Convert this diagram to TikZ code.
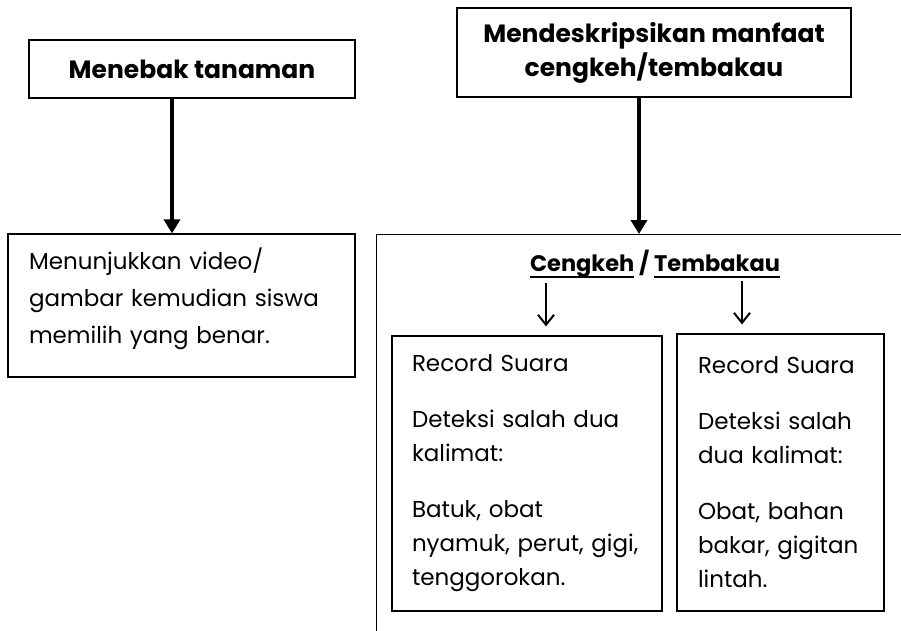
\documentclass[tikz,border=0pt]{standalone}
\usepackage{fontspec}
\setmainfont{Poppins}
\usetikzlibrary{arrows.meta}

\newcommand\uword[1]{\setbox0=\hbox{#1}\rlap{\rule[-6pt]{\wd0}{2pt}}\box0\relax}

\tikzset{
  box/.style={draw=black, line width=1.2pt, inner sep=0pt},
  heavy/.style={line width=4pt, -{Triangle[width=16pt,length=14pt]}},
  light/.style={line width=2pt, -{Straight Barb[width=16pt,length=10pt]}},
}

\begin{document}
\begin{tikzpicture}[x=1pt,y=-1pt]
    \useasboundingbox (0,0) rectangle (901,630);

    \node[box, minimum width=326pt, minimum height=58pt, font=\bfseries\fontsize{25}{28}\selectfont] (guess) at (192,69) {Menebak tanaman};
    \node[box, minimum width=394pt, minimum height=89pt, align=center, font=\bfseries\fontsize{25}{34}\selectfont] (benefit) at (654,52.5) {Mendeskripsikan manfaat\\cengkeh/tembakau};

    \node[box, text width=305pt, inner xsep=21pt, minimum height=143pt, text depth=94pt, align=left, font=\fontsize{23}{37}\selectfont] (show) at (181.5,305.5) {Menunjukkan video/\\gambar kemudian siswa\\memilih yang benar.};

    \node[box, anchor=north west, minimum width=600pt, minimum height=420pt] (panel) at (376,234) {};
    \node[font=\bfseries\fontsize{22.5}{26}\selectfont] (plants) at (655,264) {\uword{Cengkeh} / \uword{Tembakau}};

    \node[box, text width=230pt, inner xsep=20pt, minimum height=275pt, align=left, font=\fontsize{23}{34}\selectfont] (clove) at (527,473.5) {Record Suara\\[22pt]Deteksi salah dua\\kalimat:\\[22pt]Batuk, obat\\nyamuk, perut, gigi,\\tenggorokan.};
    \node[box, text width=165pt, inner xsep=21pt, minimum height=277pt, align=left, font=\fontsize{23}{34}\selectfont] (tobacco) at (780.5,472.5) {Record Suara\\[22pt]Deteksi salah\\dua kalimat:\\[22pt]Obat, bahan\\bakar, gigitan\\lintah.};

    \coordinate (cfrom) at (546,283);
    \coordinate (tfrom) at (742,281);

    \draw[heavy] ([xshift=-20pt]guess.south) -- ([xshift=-20pt]guess.south |- show.north);
    \draw[heavy] ([xshift=-15pt]benefit.south) -- ([xshift=-15pt]benefit.south |- panel.north);
    \draw[light, shorten >=9pt] (cfrom) -- (cfrom |- clove.north);
    \draw[light, shorten >=9pt] (tfrom) -- (tfrom |- tobacco.north);

\end{tikzpicture}
\end{document}
